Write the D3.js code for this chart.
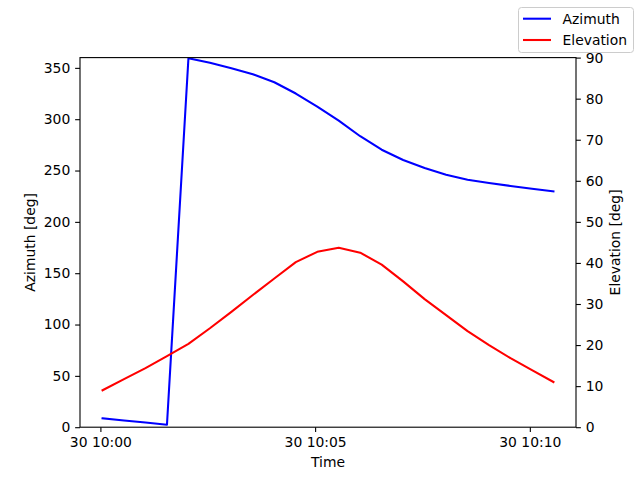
<!DOCTYPE html>
<html>
<head>
<meta charset="utf-8">
<script src="https://cdn.jsdelivr.net/npm/d3@7"></script>
<style>
  html, body { margin: 0; padding: 0; background: #fff; }
  svg { display: block; font-family: "DejaVu Sans", sans-serif; }
</style>
</head>
<body>
<svg id="chart" width="640" height="480"></svg>
<script>
// ---- data ----
const times = [
  "2024-01-30T10:00:03", "2024-01-30T10:00:33", "2024-01-30T10:01:03", "2024-01-30T10:01:33",
  "2024-01-30T10:02:03", "2024-01-30T10:02:33", "2024-01-30T10:03:03", "2024-01-30T10:03:33",
  "2024-01-30T10:04:03", "2024-01-30T10:04:33", "2024-01-30T10:05:03", "2024-01-30T10:05:33",
  "2024-01-30T10:06:03", "2024-01-30T10:06:33", "2024-01-30T10:07:03", "2024-01-30T10:07:33",
  "2024-01-30T10:08:03", "2024-01-30T10:08:33", "2024-01-30T10:09:03", "2024-01-30T10:09:33",
  "2024-01-30T10:10:03", "2024-01-30T10:10:33"
];
const azimuth = [8.7, 6.6, 4.5, 2.4, 359.4, 354.9, 349.6, 343.8, 336.0, 325.0, 312.3,
                 298.6, 283.4, 270.3, 260.3, 252.5, 246.0, 241.0, 237.9, 235.0, 232.3, 229.7];
const elevation = [9.0, 11.7, 14.4, 17.3, 20.3, 24.1, 28.1, 32.2, 36.2, 40.2, 42.7,
                   43.7, 42.5, 39.6, 35.5, 31.2, 27.3, 23.4, 20.0, 16.8, 13.9, 11.0];
const xTickLabels = ["2024-01-30T10:00:00", "2024-01-30T10:05:00", "2024-01-30T10:10:00"];
const azTicks = [0, 50, 100, 150, 200, 250, 300, 350];
const elTicks = [0, 10, 20, 30, 40, 50, 60, 70, 80, 90];
const seriesNames = ["Azimuth", "Elevation"];

// ---- layout ----
const W = 640, H = 480;
const L = 80, R = 576, T = 57.6, B = 427.2;
const FS = 13.9;
const tickLen = 4.86, tickPad = 4.86;

const parse = d3.isoParse;
const tDates = times.map(s => new Date(s));
const ext = d3.extent(tDates);
const span = ext[1] - ext[0];
const x = d3.scaleTime()
  .domain([new Date(+ext[0] - 0.05 * span), new Date(+ext[1] + 0.05 * span)])
  .range([L, R]);
const yAz = d3.scaleLinear().domain([0, 360]).range([B, T]);
const yEl = d3.scaleLinear().domain([0, 90]).range([B, T]);

const svg = d3.select("#chart");
svg.append("rect").attr("width", W).attr("height", H).attr("fill", "#fff");

function styleAxis(g) {
  g.select(".domain").remove();
  g.selectAll(".tick line").attr("stroke", "#000").attr("stroke-width", 1.1);
  g.selectAll(".tick text").attr("fill", "#000").attr("font-size", FS)
    .attr("font-family", "DejaVu Sans, sans-serif");
}

const fmtX = d3.timeFormat("%d %H:%M");

// x axis
svg.append("g").attr("transform", `translate(0,${B})`)
  .call(d3.axisBottom(x).tickValues(xTickLabels.map(s => new Date(s)))
    .tickFormat(fmtX).tickSize(tickLen).tickPadding(tickPad))
  .call(styleAxis);

// left axis
svg.append("g").attr("transform", `translate(${L},0)`)
  .call(d3.axisLeft(yAz).tickValues(azTicks).tickSize(tickLen).tickPadding(tickPad))
  .call(styleAxis);

// right axis
svg.append("g").attr("transform", `translate(${R},0)`)
  .call(d3.axisRight(yEl).tickValues(elTicks).tickSize(tickLen).tickPadding(tickPad))
  .call(styleAxis);

// clip
svg.append("clipPath").attr("id", "clip").append("rect")
  .attr("x", L).attr("y", T).attr("width", R - L).attr("height", B - T);

const lineAz = d3.line().x((d, i) => x(tDates[i])).y(d => yAz(d));
const lineEl = d3.line().x((d, i) => x(tDates[i])).y(d => yEl(d));

svg.append("path").datum(azimuth).attr("d", lineAz)
  .attr("fill", "none").attr("stroke", "#0000ff").attr("stroke-width", 2.08)
  .attr("stroke-linejoin", "round").attr("stroke-linecap", "square")
  .attr("clip-path", "url(#clip)");
svg.append("path").datum(elevation).attr("d", lineEl)
  .attr("fill", "none").attr("stroke", "#ff0000").attr("stroke-width", 2.08)
  .attr("stroke-linejoin", "round").attr("stroke-linecap", "square")
  .attr("clip-path", "url(#clip)");

// frame
svg.append("rect").attr("x", L).attr("y", T).attr("width", R - L).attr("height", B - T)
  .attr("fill", "none").attr("stroke", "#000").attr("stroke-width", 1.1);

// axis labels
svg.append("text").attr("x", (L + R) / 2).attr("y", 467)
  .attr("text-anchor", "middle").attr("font-size", FS).text("Time");
svg.append("text").attr("transform", `translate(35,${(T + B) / 2}) rotate(-90)`)
  .attr("text-anchor", "middle").attr("font-size", FS).text("Azimuth [deg]");
svg.append("text").attr("transform", `translate(620,${(T + B) / 2}) rotate(-90)`)
  .attr("text-anchor", "middle").attr("font-size", FS).text("Elevation [deg]");

// legend
const lg = svg.append("g");
lg.append("rect").attr("x", 518.5).attr("y", 7.5).attr("width", 115).attr("height", 45)
  .attr("rx", 3).attr("fill", "#fff").attr("fill-opacity", 0.8)
  .attr("stroke", "#cccccc").attr("stroke-width", 1);
const colors = ["#0000ff", "#ff0000"];
seriesNames.forEach((n, i) => {
  const cy = 18.7 + i * 21.3;
  lg.append("line").attr("x1", 523).attr("x2", 551).attr("y1", cy).attr("y2", cy)
    .attr("stroke", colors[i]).attr("stroke-width", 2.08);
  lg.append("text").attr("x", 562.5).attr("y", cy + 5).attr("font-size", FS).text(n);
});
</script>
</body>
</html>
